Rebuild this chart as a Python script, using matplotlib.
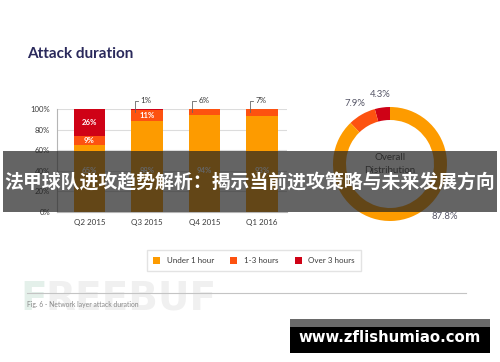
import numpy as np
import matplotlib
matplotlib.use("Agg")
import matplotlib.pyplot as plt
from matplotlib.patches import Rectangle

# ---------------- data ----------------
quarters = ["Q2 2015", "Q3 2015", "Q4 2015", "Q1 2016"]
under_1h = [65, 88, 94, 93]
hours_1_3 = [9, 11, 6, 7]
over_3h = [26, 1, 0, 0]
series_names = ["Under 1 hour", "1-3 hours", "Over 3 hours"]
y_ticks = [0, 20, 40, 60, 80, 100]

donut_names = ["Over 3 hours", "1-3 hours", "Under 1 hour"]
donut_values = [4.3, 7.9, 87.8]

title = "Attack duration"
caption = "Fig. 6 - Network layer attack duration"
banner = "法甲球队进攻趋势解析：揭示当前进攻策略与未来发展方向"
site = "www.zflishumiao.com"

# ---------------- style ----------------
C_UNDER = "#fd9b00"
C_MID = "#fd5210"
C_OVER = "#cf0216"
TXT = "#3a3a3a"
plt.rcParams["font.family"] = ["Lato", "DejaVu Sans"]

W, H = 500, 362
fig = plt.figure(figsize=(W / 100, H / 100), dpi=100)
fig.patch.set_facecolor("white")


def box(x0, y0, x1, y1):
    return [x0 / W, 1 - y1 / H, (x1 - x0) / W, (y1 - y0) / H]


# ---------------- stacked bars ----------------
ax = fig.add_axes(box(57, 109, 287, 212))
x = np.arange(len(quarters))
u = np.array(under_1h, float)
m = np.array(hours_1_3, float)
o = np.array(over_3h, float)
bw = 0.54
b1 = ax.bar(x, u, bw, color=C_UNDER, zorder=2)
b2 = ax.bar(x, m, bw, bottom=u, color=C_MID, zorder=2)
b3 = ax.bar(x, o, bw, bottom=u + m, color=C_OVER, zorder=2)
ax.set_xlim(-0.565, len(quarters) - 0.565)
ax.set_ylim(0, 100)
ax.set_yticks(y_ticks)
ax.set_yticklabels([f"{v}%" for v in y_ticks], fontsize=5.6, color=TXT)
ax.set_xticks(x)
ax.set_xticklabels(quarters, fontsize=5.8, color=TXT)
ax.tick_params(length=0)
ax.tick_params(axis="y", pad=5)
ax.tick_params(axis="x", pad=5)
ax.yaxis.grid(True, color="#dcdcdc", lw=0.8)
ax.set_axisbelow(True)
for s in ["top", "right"]:
    ax.spines[s].set_visible(False)
for s in ["left", "bottom"]:
    ax.spines[s].set_color("#b5b5b5")
    ax.spines[s].set_linewidth(0.8)

for i in range(len(quarters)):
    # base label
    ax.text(x[i], 40, f"{under_1h[i]}%", ha="center", va="center",
            color="white", fontsize=5.6, fontweight="bold", zorder=3)
    segs = [(hours_1_3[i], u[i]), (over_3h[i], u[i] + m[i])]
    small = None
    for val, bottom in segs:
        if val >= 9:
            ax.text(x[i], bottom + val / 2, f"{val}%", ha="center", va="center",
                    color="white", fontsize=5.6, fontweight="bold", zorder=3)
        elif val > 0:
            small = val
    if small is not None:
        lx = x[i] - bw / 2 + 0.06
        ax.plot([lx, lx, lx + 0.06], [97, 108, 108], color="#666666",
                lw=0.6, clip_on=False, zorder=3)
        ax.text(lx + 0.1, 108, f"{small}%", ha="left", va="center",
                color=TXT, fontsize=5.8, clip_on=False)

# ---------------- donut ----------------
cx, cy, R = 390, 164, 57
axd = fig.add_axes(box(cx - 70, cy - 70, cx + 70, cy + 70))
axd.pie(donut_values, colors=[C_OVER, C_MID, C_UNDER], startangle=90,
        counterclock=True, radius=R, wedgeprops=dict(width=13, linewidth=0))
axd.set_xlim(-70, 70)
axd.set_ylim(-70, 70)
axd.set_aspect("equal")
axd.axis("off")
cum = np.cumsum([0] + donut_values)
for k, v in enumerate(donut_values):
    if k < 2:
        ang = np.deg2rad(90 + 3.6 * (cum[k] + v / 2))
        r = 70
    else:
        ang = np.deg2rad(-44)
        r = 76
    axd.text(r * np.cos(ang), r * np.sin(ang), f"{v}%", ha="center", va="center",
             fontsize=6.8, color="#555566", clip_on=False)
axd.text(0, 0, "Overall\nDistribution", ha="center", va="center",
         fontsize=7, color="#444444", linespacing=1.5)

# ---------------- legend ----------------
fig.legend([b1, b2, b3], series_names, loc="center",
           bbox_to_anchor=(254 / W, 1 - 260.5 / H), ncol=3, frameon=True,
           fancybox=False, edgecolor="#dddddd", fontsize=5.8,
           handlelength=0.9, handleheight=0.9, columnspacing=2.0,
           handletextpad=0.8, borderpad=0.8, labelcolor=TXT)

# ---------------- overlay (pixel coords) ----------------
ov = fig.add_axes([0, 0, 1, 1], zorder=10)
ov.set_xlim(0, W)
ov.set_ylim(H, 0)
ov.axis("off")
ov.patch.set_alpha(0)

ov.text(27, 54, title, fontsize=11, fontweight="bold", color="#2b2a5c",
        ha="left", va="center")

# watermark (behind the caption)
ov.text(20, 299, "F", fontsize=28, fontweight="bold", color="#e4f0ea",
        ha="left", va="center", family=["DejaVu Sans"], zorder=0)
ov.text(45, 299, "REEBUF", fontsize=28, fontweight="bold", color="#f0f0f0",
        ha="left", va="center", family=["DejaVu Sans"], zorder=0)

ov.plot([27, 466], [293, 293], color="#c4c4c4", lw=0.8, zorder=1)
ov.text(27, 304, caption, fontsize=4.9, color="#888888", ha="left",
        va="center", zorder=2)

# banner
ov.add_patch(Rectangle((3, 151), 494, 61, facecolor="#222222", alpha=0.7,
                       edgecolor="none", zorder=5))
ov.text(250, 183, banner, fontsize=13.6, fontweight="bold", color="white",
        ha="center", va="center", family=["Noto Sans CJK SC", "DejaVu Sans"],
        zorder=6)

# site box
ov.add_patch(Rectangle((290, 319), 200, 8, facecolor="#6a6a6a", edgecolor="none"))
ov.add_patch(Rectangle((290, 327), 200, 26, facecolor="black", edgecolor="none"))
ov.text(390, 337, site, fontsize=10.7, fontweight="bold", color="white",
        ha="center", va="center", family=["DejaVu Sans"])

fig.savefig("out.png", dpi=100)
